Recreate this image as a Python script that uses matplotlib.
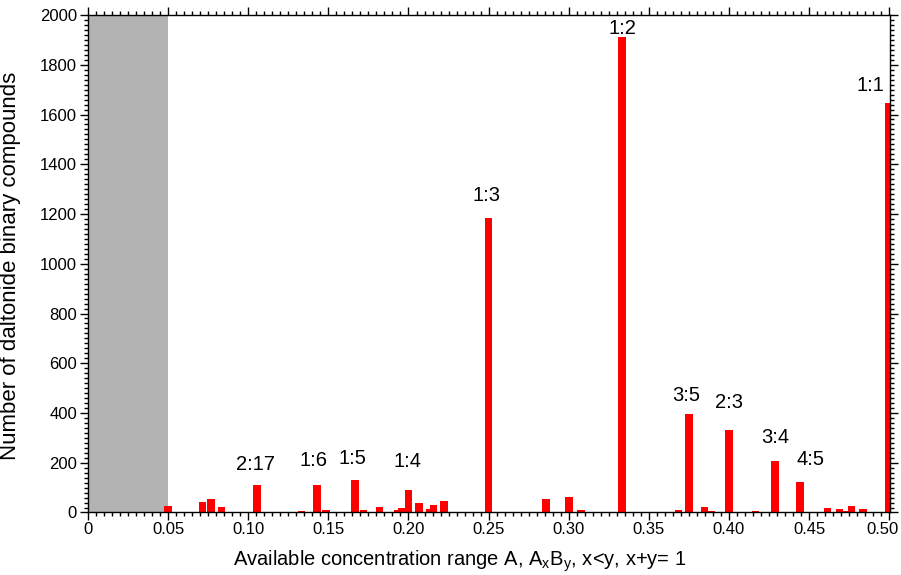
import numpy as np
import matplotlib
matplotlib.use('Agg')
import matplotlib.pyplot as plt
import matplotlib.transforms as mtransforms
from matplotlib.ticker import MultipleLocator

# bar positions (composition A fraction) and counts
conc = [0.05, 0.0714, 0.0769, 0.0833, 0.1053, 0.1333, 0.1429, 0.1485,
        0.1667, 0.1718, 0.1818, 0.1935, 0.1958, 0.2, 0.2067, 0.2130,
        0.2155, 0.2222, 0.25, 0.2857, 0.3, 0.3077, 0.3333, 0.3684,
        0.375, 0.3846, 0.3889, 0.4, 0.4167, 0.4286, 0.4444, 0.4615,
        0.4690, 0.4725, 0.4764, 0.4835, 0.5]
counts = [25, 44, 55, 24, 110, 5, 110, 11,
          130, 11, 24, 11, 19, 89, 38, 13,
          32, 47, 1185, 55, 62, 12, 1910, 11,
          395, 24, 7, 332, 7, 208, 121, 17,
          16, 7, 28, 16, 1646]

# ratio labels
ratio_text = ['2:17', '1:6', '1:5', '1:4', '1:3', '1:2', '3:5', '2:3', '3:4', '4:5', '1:1']
ratio_x = [0.1047, 0.1409, 0.1652, 0.1995, 0.2486, 0.3335, 0.3733, 0.4003, 0.4286, 0.4508, 0.4880]
ratio_y = [193, 209, 217, 207, 1275, 1944, 472, 442, 301, 215, 1715]

plt.rcParams['font.family'] = ['Liberation Sans', 'DejaVu Sans']

fig = plt.figure(figsize=(9.01, 5.75), dpi=100)
ax = fig.add_axes([0.0977, 0.1087, 0.8901, 0.8652])

# grey forbidden region
ax.axvspan(0, 0.05, color='#b3b3b3', lw=0, zorder=0)

ax.bar(conc, counts, width=0.0047, color='#ff0000', zorder=2)

for t, x, y in zip(ratio_text, ratio_x, ratio_y):
    ax.text(x, y, t, ha='center', va='center', fontsize=14.5, zorder=3)

ax.set_xlim(0, 0.5005)
ax.set_ylim(0, 2000)
ax.set_xticks(np.arange(0, 0.501, 0.05))
ax.set_xticklabels(['0'] + ['%.2f' % v for v in np.arange(0.05, 0.501, 0.05)])
ax.xaxis.set_minor_locator(MultipleLocator(0.005))
ax.yaxis.set_major_locator(MultipleLocator(200))
ax.yaxis.set_minor_locator(MultipleLocator(20))

ax.tick_params(which='both', direction='out', top=True, right=True,
               labelsize=12, width=1)
ax.tick_params(which='major', length=6)
ax.tick_params(axis='x', which='major', pad=1)
ax.tick_params(axis='y', which='major', pad=2)
ax.tick_params(which='minor', length=3)
for s in ax.spines.values():
    s.set_linewidth(1)

# keep the last x tick label inside the figure, like the original
last = ax.get_xticklabels()[-1]
last.set_horizontalalignment('right')
last.set_transform(last.get_transform() +
                   mtransforms.ScaledTranslation(9 / 100, 0, fig.dpi_scale_trans))

ax.set_xlabel(r'Available concentration range A, A$\mathregular{_x}$B$\mathregular{_y}$, x<y, x+y= 1',
              fontsize=14.5)
ax.xaxis.set_label_coords(0.4637, -0.072)
ax.set_ylabel('Number of daltonide binary compounds', fontsize=16)
ax.yaxis.set_label_coords(-0.084, 0.496)

fig.savefig('out.png', dpi=100)
